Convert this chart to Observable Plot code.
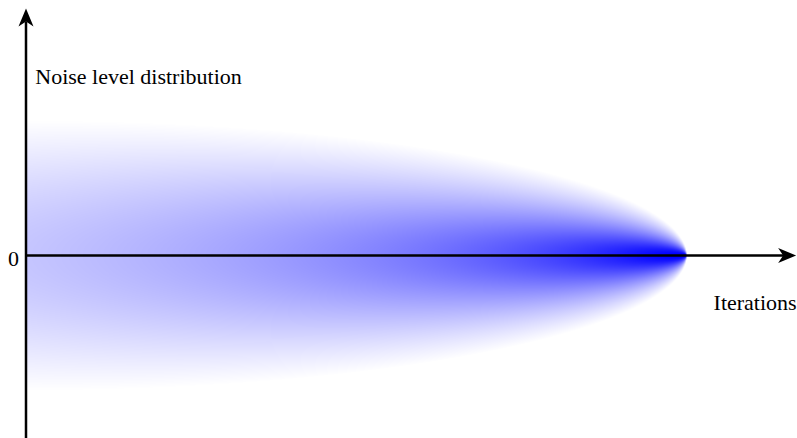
<!DOCTYPE html>
<html>
<head>
<meta charset="utf-8">
<script src="https://cdn.jsdelivr.net/npm/d3@7"></script>
<script src="https://cdn.jsdelivr.net/npm/@observablehq/plot@0.6"></script>
<style>
  html, body { margin: 0; padding: 0; background: #ffffff; }
  #chart svg { display: block; }
</style>
</head>
<body>
<div id="chart"></div>
<script>
// ---- data (in chart units) ----
const iterationSpan = [0, 1000];        // noise distribution shrinks to zero at the last iteration
const noiseSpread = [-3, 3];            // outer extent of the noise distribution (±3σ)
const axisExtentX = [0, 1166];          // horizontal arrow: from origin to tip
const axisExtentY = [-4.1, 5.49];       // vertical arrow: from bottom to tip
const yTickValues = [0];
const yTickLabels = ["0"];
const axisTitles = ["Noise level distribution", "Iterations"];
const titleX = [14, 1041];
const titleY = [3.82, -1.2];
const shadingParams = [0.62, 0.5];      // optical-depth gain, exponent

// intensity of the shaded distribution at (x, y)
function intensity(x, y) {
  const D = (iterationSpan[1] - x) / (iterationSpan[1] - iterationSpan[0]);
  const v = y / noiseSpread[1];
  if (D <= 0) return NaN;
  const s = (D * D + v * v) / (2 * D);
  if (s > 1) return NaN;
  const G = shadingParams[0] * (Math.pow(s, -shadingParams[1]) - 1);
  return 1 - Math.exp(-G);
}

// filled "stealth" arrow head, pointing up, tip at origin
const L = 18, W = 7.5, N = 5;
const stealth = {
  draw(ctx) {
    ctx.moveTo(0, 0);
    ctx.quadraticCurveTo(W * 0.5, L * 0.5, W, L);
    ctx.lineTo(0, L - N);
    ctx.lineTo(-W, L);
    ctx.quadraticCurveTo(-W * 0.5, L * 0.5, 0, 0);
    ctx.closePath();
  }
};

const plot = Plot.plot({
  width: 797,
  height: 438,
  margin: 0,
  style: { background: "#ffffff", fontFamily: "'Liberation Serif', 'Times New Roman', serif" },
  x: { domain: [0, 1000], range: [25.5, 686], axis: null },
  y: { domain: [-3, 3], range: [390, 120], axis: null },
  color: { type: "linear", domain: [0, 1], range: ["#ffffff", "#0000ff"], interpolate: "rgb" },
  marks: [
    Plot.raster({
      x1: iterationSpan[0], x2: iterationSpan[1],
      y1: noiseSpread[0], y2: noiseSpread[1],
      fill: intensity,
      pixelSize: 1
    }),
    // vertical axis line
    Plot.ruleX([0], { y1: axisExtentY[0], y2: axisExtentY[1] - 0.3, stroke: "#000", strokeWidth: 2.5 }),
    // horizontal axis line
    Plot.ruleY([0], { x1: axisExtentX[0], x2: axisExtentX[1] - 18, stroke: "#000", strokeWidth: 2.5 }),
    // arrow heads
    Plot.dot([{ x: 0, y: axisExtentY[1] }], { x: "x", y: "y", symbol: stealth, fill: "#000", stroke: null, r: 5 }),
    Plot.dot([{ x: axisExtentX[1], y: 0 }], { x: "x", y: "y", symbol: stealth, fill: "#000", stroke: null, r: 5, rotate: 90 }),
    // tick label
    Plot.text(yTickValues, {
      x: 0, y: d => d, text: (d, i) => yTickLabels[i],
      textAnchor: "end", lineAnchor: "middle", dx: -7, dy: 3,
      fontSize: 22, fill: "#000"
    }),
    // axis titles
    Plot.text(axisTitles, {
      x: (d, i) => titleX[i], y: (d, i) => titleY[i], text: d => d,
      textAnchor: "start", lineAnchor: "bottom",
      fontSize: 22, fill: "#000"
    })
  ]
});
document.getElementById("chart").appendChild(plot);
</script>
</body>
</html>
